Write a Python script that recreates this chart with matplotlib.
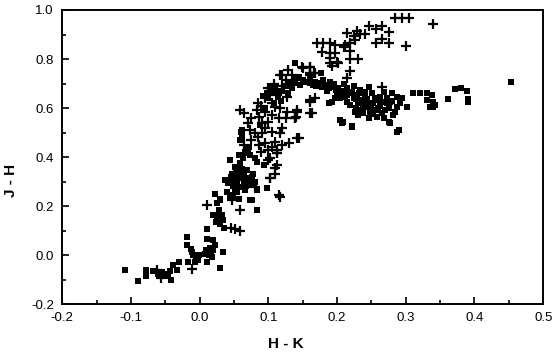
import matplotlib
matplotlib.use("Agg")
import matplotlib.pyplot as plt
from matplotlib.ticker import MultipleLocator

# filled squares: (H-K, J-H)
sq_pts = [
	(-0.109,-0.059),(-0.090,-0.105),(-0.078,-0.059),(-0.078,-0.086),(-0.068,-0.065),(-0.055,-0.068),
	(-0.050,-0.075),(-0.043,-0.064),(-0.041,-0.100),(-0.039,-0.041),(-0.033,-0.061),(-0.030,-0.027),
	(-0.060,-0.075),(-0.046,-0.085),
	(-0.018,0.075),(-0.018,0.041),(-0.017,-0.027),(-0.011,0.013),(-0.009,0.000),(-0.005,-0.014),
	(-0.001,0.000),(-0.006,-0.027),(-0.013,0.027),(-0.003,-0.020),
	(0.011,0.105),(0.011,0.064),(0.010,0.020),(0.013,0.000),(0.016,0.013),(0.020,0.061),(0.023,0.041),
	(0.018,-0.007),(0.011,-0.027),(0.030,-0.051),(0.034,0.013),(0.008,0.005),(0.015,0.030),(0.020,0.020),
	(0.023,0.251),(0.025,0.211),(0.028,0.170),(0.024,0.136),(0.030,0.129),(0.035,0.109),(0.030,0.231),
	(0.030,0.225),(0.028,0.184),(0.032,0.163),(0.020,0.163),(0.026,0.150),(0.034,0.145),
	(0.083,0.184),(0.076,0.225),(0.044,0.238),(0.057,0.408),(0.059,0.374),(0.054,0.347),(0.047,0.333),
	(0.049,0.306),(0.042,0.293),(0.057,0.313),(0.064,0.333),(0.069,0.347),(0.071,0.313),(0.074,0.286),
	(0.064,0.293),(0.059,0.279),(0.066,0.265),(0.078,0.333),(0.081,0.299),(0.098,0.272),(0.040,0.259),
	(0.049,0.238),(0.054,0.259),(0.044,0.388),(0.037,0.306),(0.061,0.497),(0.059,0.469),(0.083,0.381),
	(0.052,0.360),(0.059,0.313),(0.047,0.299),(0.066,0.292),(0.076,0.320),(0.079,0.286),(0.083,0.265),
	(0.045,0.245),(0.057,0.231),(0.074,0.225),(0.093,0.367),(0.081,0.395),(0.071,0.415),(0.069,0.442),
	(0.062,0.476),(0.062,0.510),(0.088,0.531),(0.060,0.503),(0.072,0.440),(0.074,0.408),(0.050,0.320),
	(0.055,0.290),(0.068,0.305),(0.062,0.350),(0.052,0.270),(0.046,0.318),(0.053,0.338),(0.061,0.325),
	(0.067,0.280),(0.072,0.300),(0.058,0.355),(0.048,0.280),(0.063,0.395),(0.066,0.420),
	(0.114,0.645),(0.114,0.660),(0.095,0.600),(0.100,0.640),(0.105,0.665),(0.110,0.680),(0.120,0.670),
	(0.125,0.690),(0.130,0.700),(0.118,0.630),(0.108,0.620),(0.098,0.660),(0.092,0.650),(0.135,0.680),
	(0.128,0.660),(0.103,0.690),(0.139,0.785),
	(0.137,0.721),(0.144,0.728),(0.139,0.701),(0.146,0.694),(0.154,0.708),(0.161,0.701),(0.168,0.708),
	(0.176,0.701),(0.183,0.694),(0.180,0.714),(0.190,0.708),(0.188,0.680),(0.195,0.687),(0.202,0.680),
	(0.200,0.660),(0.207,0.667),(0.212,0.646),(0.205,0.640),(0.214,0.680),(0.217,0.660),(0.222,0.667),
	(0.224,0.640),(0.229,0.653),(0.234,0.674),(0.236,0.633),(0.241,0.646),(0.246,0.687),(0.251,0.660),
	(0.246,0.619),(0.219,0.612),(0.227,0.599),(0.234,0.592),(0.241,0.605),(0.248,0.578),(0.256,0.592),
	(0.258,0.633),(0.263,0.646),(0.268,0.667),(0.273,0.619),(0.277,0.626),(0.275,0.599),(0.270,0.592),
	(0.280,0.660),(0.287,0.646),(0.287,0.605),(0.282,0.571),(0.268,0.558),(0.258,0.565),(0.246,0.558),
	(0.231,0.571),(0.222,0.527),(0.209,0.544),(0.205,0.551),(0.193,0.626),(0.188,0.622),(0.197,0.640),
	(0.290,0.510),(0.275,0.544),(0.176,0.742),(0.160,0.720),(0.150,0.715),(0.170,0.690),(0.185,0.670),
	(0.195,0.700),(0.210,0.700),(0.225,0.690),(0.240,0.665),(0.255,0.640),(0.262,0.610),(0.230,0.620),
	(0.215,0.625),(0.250,0.600),(0.265,0.580),(0.280,0.630),(0.292,0.620),(0.285,0.585),
	(0.215,0.655),(0.228,0.635),(0.238,0.618),(0.244,0.635),(0.253,0.620),(0.260,0.600),(0.238,0.580),
	(0.226,0.585),(0.252,0.575),(0.266,0.625),(0.272,0.640),(0.232,0.660),(0.210,0.670),(0.198,0.672),
	(0.178,0.685),(0.165,0.695),
	(0.302,0.605),(0.287,0.503),(0.277,0.537),(0.207,0.537),(0.222,0.524),(0.311,0.660),(0.321,0.660),
	(0.331,0.660),(0.338,0.653),(0.331,0.633),(0.340,0.626),(0.336,0.603),(0.340,0.603),(0.343,0.612),
	(0.294,0.639),(0.361,0.637),(0.371,0.676),(0.380,0.683),(0.389,0.671),(0.390,0.635),(0.390,0.623),
	(0.453,0.707),
]

# plus signs: (H-K, J-H)
pl_pts = [
	(-0.062,-0.061),(-0.056,-0.095),(-0.011,-0.055),(0.011,0.204),(0.059,0.184),(0.047,0.225),
	(0.045,0.110),(0.052,0.105),(0.059,0.100),(0.081,0.279),(0.102,0.313),(0.112,0.367),(0.115,0.245),
	(0.117,0.238),(0.110,0.333),(0.100,0.388),(0.112,0.415),
	(0.059,0.592),(0.083,0.592),(0.086,0.565),(0.095,0.585),(0.110,0.605),(0.117,0.599),(0.127,0.585),
	(0.139,0.558),(0.105,0.571),(0.115,0.558),(0.091,0.537),(0.100,0.544),(0.074,0.510),(0.081,0.497),
	(0.091,0.497),(0.105,0.503),(0.117,0.497),(0.142,0.476),(0.130,0.456),(0.120,0.449),(0.110,0.463),
	(0.095,0.456),(0.086,0.449),(0.100,0.429),(0.113,0.415),(0.103,0.395),(0.110,0.354),(0.103,0.313),
	(0.100,0.653),(0.117,0.735),(0.129,0.755),(0.134,0.735),(0.149,0.769),(0.161,0.769),(0.166,0.742),
	(0.142,0.714),(0.115,0.660),(0.127,0.647),(0.161,0.626),(0.142,0.585),(0.163,0.578),(0.144,0.477),
	(0.105,0.619),(0.120,0.735),(0.112,0.653),(0.141,0.565),(0.112,0.430),
	(0.285,0.966),(0.294,0.966),(0.304,0.966),(0.301,0.854),(0.246,0.935),(0.256,0.921),(0.265,0.935),
	(0.275,0.912),(0.256,0.867),(0.265,0.880),(0.275,0.864),(0.214,0.908),(0.224,0.894),(0.229,0.916),
	(0.234,0.902),(0.241,0.902),(0.226,0.878),(0.219,0.864),(0.212,0.857),(0.219,0.834),(0.219,0.799),
	(0.231,0.799),(0.219,0.751),(0.171,0.864),(0.179,0.864),(0.178,0.830),(0.190,0.864),(0.197,0.857),
	(0.190,0.823),(0.197,0.823),(0.190,0.803),(0.200,0.789),(0.190,0.782),(0.192,0.772),(0.210,0.848),
	(0.151,0.762),(0.161,0.766),(0.161,0.742),(0.265,0.687),(0.340,0.943),
	(0.202,0.782),(0.214,0.721),(0.161,0.735),(0.168,0.742),(0.161,0.633),(0.168,0.640),(0.142,0.592),
	(0.161,0.578),(0.139,0.558),
	(0.085,0.620),(0.095,0.640),(0.090,0.610),(0.120,0.690),(0.130,0.700),(0.125,0.715),(0.108,0.700),
	(0.100,0.680),(0.075,0.560),(0.070,0.540),(0.065,0.450),(0.075,0.470),(0.085,0.480),(0.095,0.520),
	(0.120,0.520),(0.125,0.560),(0.065,0.580),(0.090,0.420),(0.105,0.440),
]

sq_x = [p[0] for p in sq_pts]
sq_y = [p[1] for p in sq_pts]
pl_x = [p[0] for p in pl_pts]
pl_y = [p[1] for p in pl_pts]

x_ticks = [-0.2, -0.1, 0.0, 0.1, 0.2, 0.3, 0.4, 0.5]
y_ticks = [-0.2, 0.0, 0.2, 0.4, 0.6, 0.8, 1.0]

plt.rcParams['font.family'] = ['Liberation Sans', 'DejaVu Sans']

fig = plt.figure(figsize=(5.6, 3.57), dpi=100)
ax = fig.add_axes([0.111, 0.148, 0.859, 0.824])

ax.plot(sq_x, sq_y, "s", color="black", markersize=3.8, markeredgewidth=0)
ax.plot(pl_x, pl_y, "+", color="black", markersize=6.5, markeredgewidth=1.6)

ax.set_xlim(-0.2, 0.5)
ax.set_ylim(-0.2, 1.0)
ax.set_xticks(x_ticks)
ax.set_xticklabels(["%.1f" % v for v in x_ticks])
ax.set_yticks(y_ticks)
ax.set_yticklabels(["%.1f" % v for v in y_ticks])
ax.xaxis.set_minor_locator(MultipleLocator(0.05))
ax.yaxis.set_minor_locator(MultipleLocator(0.1))
ax.tick_params(which="both", direction="in", top=False, right=False, width=1.2, labelsize=9.5)
ax.tick_params(which="major", length=5, pad=6)
ax.tick_params(which="minor", length=3)
for s in ax.spines.values():
	s.set_linewidth(1.4)

ax.set_xlabel("H - K", fontsize=11, fontweight="bold")
ax.set_ylabel("J - H", fontsize=11, fontweight="bold")
ax.xaxis.set_label_coords(0.465, -0.112)
ax.yaxis.set_label_coords(-0.092, 0.42)

fig.savefig("out.png", dpi=100)
